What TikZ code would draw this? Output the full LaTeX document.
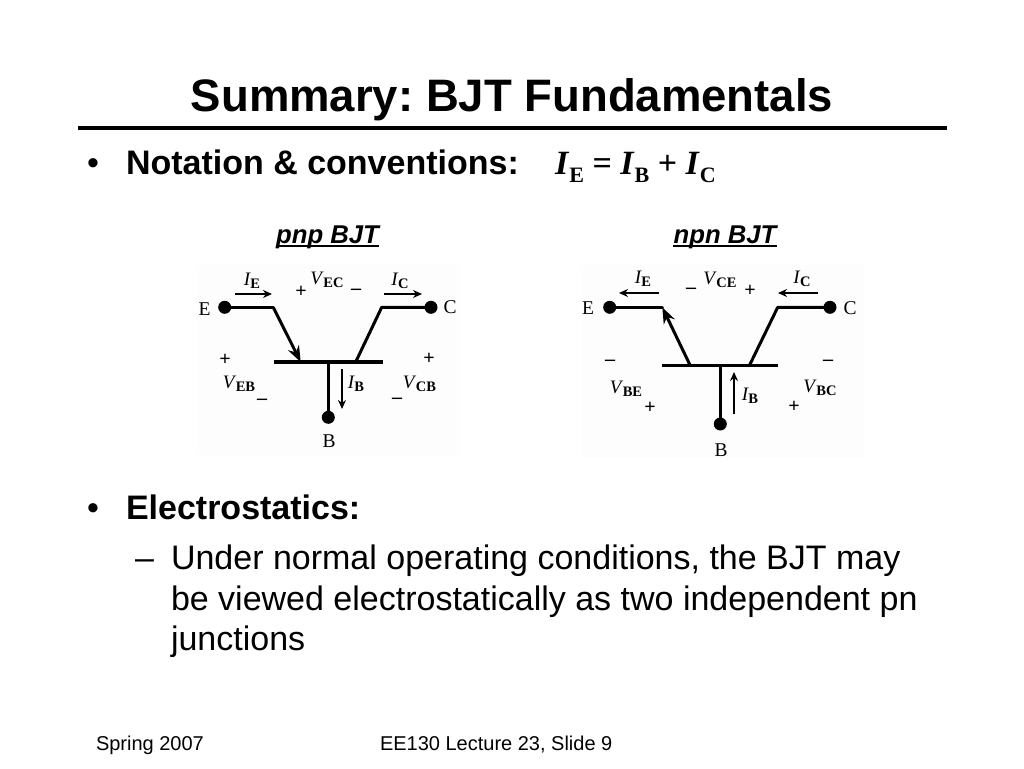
\documentclass[tikz,border=0pt]{standalone}
\usepackage{fontspec}
\setmainfont{Liberation Sans}
\newfontfamily\serifx{Liberation Serif}
\usetikzlibrary{arrows.meta}
\frenchspacing
\definecolor{scanbg}{HTML}{FDFDFD}
\tikzset{
  x=1pt,y=-1pt,
  txt/.style={inner sep=0pt,outer sep=0pt,anchor=base west,font=\fontsize{34}{36}\selectfont},
  btxt/.style={inner sep=0pt,outer sep=0pt,anchor=base west,font=\bfseries\fontsize{34}{36}\selectfont},
  foot/.style={inner sep=0pt,outer sep=0pt,anchor=base west,font=\fontsize{20}{24}\selectfont},
  head/.style={inner sep=0pt,anchor=base,font=\bfseries\itshape\fontsize{25.7}{28}\selectfont},
  lbl/.style={inner sep=0pt,font=\serifx\fontsize{19.5}{20}\selectfont},
  sym/.style={inner sep=0pt,font=\serifx\fontsize{19}{20}\selectfont},
  pm/.style={inner sep=0pt,font=\serifx\bfseries\fontsize{20}{20}\selectfont},
  wire/.style={line width=3pt,line join=round,line cap=round},
  base/.style={line width=3.2pt},
  dot/.style={circle,fill=black,inner sep=0pt,minimum size=13pt},
  cur/.style={line width=1.5pt,-{Stealth[length=9pt,width=8pt]}},
  emit/.style={line width=3pt,-{Stealth[length=16pt,width=12pt]}},
}
\newcommand{\sv}[2]{\textit{#1}\kern-0.5pt\raisebox{-3pt}{\bfseries\fontsize{14.5}{15}\selectfont #2}}
\newcommand{\eqsub}[1]{\raisebox{-8pt}{\fontsize{22}{24}\selectfont #1}}
\begin{document}
\begin{tikzpicture}
\useasboundingbox (0,0) rectangle (1024,768);
\fill[white] (0,0) rectangle (1024,768);
\fill[scanbg] (197,265) rectangle (460,455);
\fill[scanbg] (581,265) rectangle (864,458);
\node[anchor=base,inner sep=0pt,font=\bfseries\fontsize{45.5}{48}\selectfont] (title) at (512,111) {Summary: BJT Fundamentals};
\coordinate (ruleL) at (78,128); \coordinate (ruleR) at (947,128);
\draw[line width=4.5pt] (ruleL) -- (ruleR);
\node[txt] (b1) at (87,174) {•};
\node[btxt] (t1) at (126,174) {Notation \& conventions:};
\node[inner sep=0pt,anchor=base west,font=\serifx\bfseries\fontsize{34}{36}\selectfont] (eq) at (555,174) {\textit{I}\eqsub{E} = \textit{I}\eqsub{B} + \textit{I}\eqsub{C}};
\node[head] (pt) at (327.5,243) {pnp BJT};
\coordinate (ptl) at (276,246); \coordinate (ptr) at (379,246);
\draw[line width=1.8pt] (ptl) -- (ptr);
\node[head] (nt) at (725,243) {npn BJT};
\coordinate (ntl) at (673,246); \coordinate (ntr) at (777,246);
\draw[line width=1.8pt] (ntl) -- (ntr);

% pnp
\node[dot] (pE) at (224.7,307.3) {};
\node[dot] (pC) at (431,307.3) {};
\node[dot] (pB) at (328.3,417.3) {};
\coordinate (pE1) at (273.3,307.3); \coordinate (pE2) at (300.7,362);
\coordinate (pC1) at (381.7,307.3); \coordinate (pC2) at (355.7,362);
\coordinate (pBt) at (328.3,362);
\coordinate (pL) at (274,362); \coordinate (pR) at (382.7,362);
\draw[base] (pL) -- (pR);
\draw[wire] (pE.center) -- (pE1);
\draw[emit] (pE1) -- (pE2);
\draw[wire] (pC.center) -- (pC1) -- (pC2);
\draw[wire] (pBt) -- (pB.center);
\coordinate (a1) at (235,294); \coordinate (a2) at (272,294);
\draw[cur] (a1) -- (a2);
\coordinate (a3) at (384,294); \coordinate (a4) at (422,294);
\draw[cur] (a3) -- (a4);
\coordinate (a5) at (342,369); \coordinate (a6) at (342,409);
\draw[cur] (a5) -- (a6);
\node[lbl] (pEl) at (204.5,309) {E};
\node[lbl] (pCl) at (450,307.5) {C};
\node[lbl] (pBl) at (329,441) {B};
\node[sym] (pIE) at (252,281) {\sv{I}{E}};
\node[sym] (pIC) at (400,281) {\sv{I}{C}};
\node[sym] (pIB) at (356,384) {\sv{I}{B}};
\node[sym] (pVEC) at (327,280) {\sv{V}{EC}};
\node[sym] (pVEB) at (239,384) {\sv{V}{EB}};
\node[sym] (pVCB) at (419.5,384) {\sv{V}{CB}};
\node[pm] (p1) at (301,292) {+};
\node[pm] (p2) at (356,292) {–};
\node[pm] (p3) at (225,360) {+};
\node[pm] (p4) at (262,402) {–};
\node[pm] (p5) at (429,359) {+};
\node[pm] (p6) at (397,401) {–};

% npn
\node[dot] (nE) at (609.7,307.3) {};
\node[dot] (nC) at (830,307.3) {};
\node[dot] (nB) at (720.3,424) {};
\coordinate (nE1) at (662.3,307.3); \coordinate (nE2) at (690.3,365.7);
\coordinate (nC1) at (777.7,307.3); \coordinate (nC2) at (749.3,365.7);
\coordinate (nBt) at (720.3,365.7);
\coordinate (nL) at (662.3,365.7); \coordinate (nR) at (778.3,365.7);
\draw[base] (nL) -- (nR);
\draw[wire] (nE.center) -- (nE1);
\draw[emit] (nE2) -- (nE1);
\draw[wire] (nC.center) -- (nC1) -- (nC2);
\draw[wire] (nBt) -- (nB.center);
\coordinate (b1s) at (659,293); \coordinate (b1e) at (619,293);
\draw[cur] (b1s) -- (b1e);
\coordinate (b2s) at (818,293); \coordinate (b2e) at (778,293);
\draw[cur] (b2s) -- (b2e);
\coordinate (b3s) at (734,414); \coordinate (b3e) at (734,372);
\draw[cur] (b3s) -- (b3e);
\node[lbl] (nEl) at (588,308) {E};
\node[lbl] (nCl) at (850,308) {C};
\node[lbl] (nBl) at (721,450) {B};
\node[sym] (nIE) at (643,279) {\sv{I}{E}};
\node[sym] (nIC) at (802,279) {\sv{I}{C}};
\node[sym] (nIB) at (750,396) {\sv{I}{B}};
\node[sym] (nVCE) at (720,280) {\sv{V}{CE}};
\node[sym] (nVBE) at (626,389) {\sv{V}{BE}};
\node[sym] (nVBC) at (820,387.5) {\sv{V}{BC}};
\node[pm] (n1) at (691,291) {–};
\node[pm] (n2) at (750,291) {+};
\node[pm] (n3) at (610,363) {–};
\node[pm] (n4) at (650,408) {+};
\node[pm] (n5) at (828,363) {–};
\node[pm] (n6) at (794,407) {+};

\node[txt] (b2) at (87,519) {•};
\node[btxt] (t2) at (126,519) {Electrostatics:};
\node[txt] (d1) at (135,569) {–};
\node[txt] (l1) at (171,569) {Under normal operating conditions, the BJT may};
\node[txt] (l2) at (171,610) {be viewed electrostatically as two independent pn};
\node[txt] (l3) at (171,650) {junctions};
\node[foot] (f1) at (96,750) {Spring 2007};
\node[foot] (f2) at (380,750) {EE130 Lecture 23, Slide 9};
\end{tikzpicture}
\end{document}
